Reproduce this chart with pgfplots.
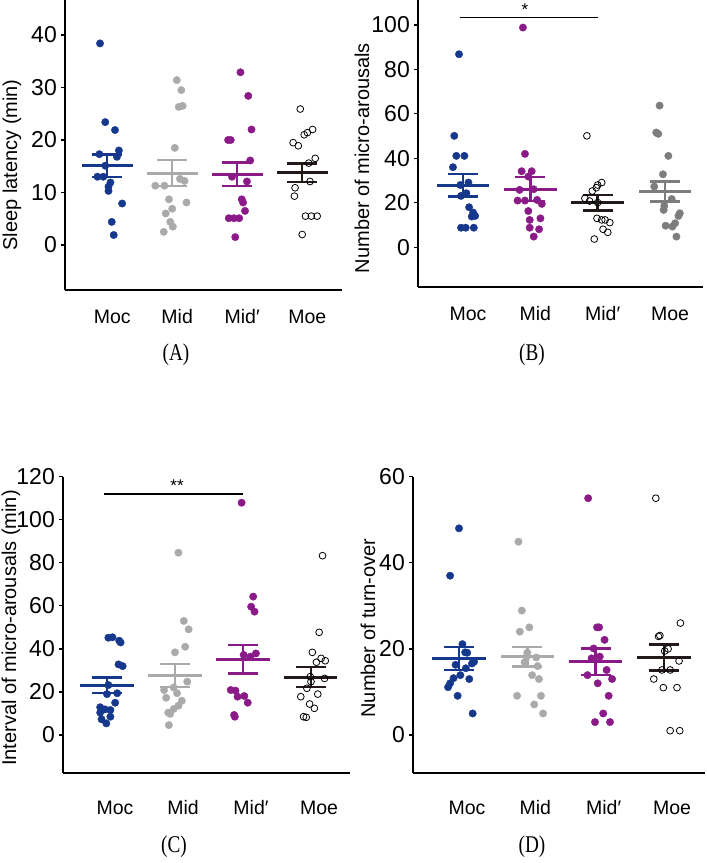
\documentclass[border=0pt]{standalone}
\usepackage{fontspec}
\setmainfont{Liberation Sans}
\newfontfamily\libserif{Liberation Serif}
\usepackage{graphicx}
\usepackage{pgfplots}
\pgfplotsset{compat=1.18}
\definecolor{cblue}{RGB}{22,56,140}
\definecolor{cpurp}{RGB}{139,26,137}
\definecolor{clgray}{RGB}{170,170,170}
\definecolor{cdgray}{RGB}{125,125,125}
\definecolor{cblack}{RGB}{35,25,25}
\pgfplotsset{
  dot/.style={only marks, mark=*, mark size=3.7bp, mark options={draw=#1, fill=#1}, forget plot},
  odot/.style={only marks, mark=o, mark size=3.4bp, mark options={draw=black, line width=0.8bp, fill=white}, forget plot},
  panel/.style={scale only axis, axis lines*=left, axis line style={line width=2.3bp, black},
    xtick={1,2,3,4}, xticklabels={Moc,Mid,Mid′,Moe}, major x tick style={draw=none},
    tick align=outside, major tick length=4bp, y tick style={line width=1.3bp, black},
    /pgf/number format/assume math mode=true,
    yticklabel style={font=\fontsize{23bp}{23bp}\selectfont, inner sep=1bp, xshift=-3bp},
    xticklabel style={font=\fontsize{19.5bp}{19.5bp}\selectfont, anchor=base},
    clip=false},
}
\newcommand{\msem}[4]{%
\addplot[color=#4, forget plot, mark=none, error bars/.cd, x dir=both, x fixed=0.39, error mark=none, error bar style={line width=3bp, #4}] coordinates {(#1,#2)};
\addplot[color=#4, forget plot, mark=none, error bars/.cd, y dir=both, y fixed=#3, error mark=|, error bar style={line width=2.4bp,#4}, error mark options={mark size=15bp, line width=2.4bp, #4}] coordinates {(#1,#2)};
}
\begin{document}
\begin{tikzpicture}[x=1bp,y=1bp]
\useasboundingbox (0,0) rectangle (707,863);
% ---------------- (A)
\begin{axis}[panel, at={(65bp,573bp)}, anchor=south west, width=277bp, height=290bp,
  xmin=0.351, xmax=4.612, ymin=-8.57, ymax=46.67, ytick={0,10,20,30,40},
  xticklabel style={yshift=-30bp, xshift=5bp}]
\addplot[dot=cblue] table {
0.89 38.4
0.97 23.4
1.12 21.9
1.18 18.0
0.88 17.3
1.15 16.8
0.97 15.1
0.85 13.0
0.94 13.0
1.05 11.9
1.02 11.1
1.02 10.3
1.23 7.9
1.07 4.4
1.10 1.9
};
\addplot[dot=clgray] table {
2.07 31.4
2.14 29.5
2.10 26.3
2.16 26.5
2.04 18.5
1.74 11.3
1.88 11.3
2.12 12.6
2.19 12.2
1.95 8.7
2.22 8.1
2.00 6.9
1.90 6.0
1.97 4.4
2.01 3.5
1.87 2.5
};
\addplot[dot=cpurp] table {
3.05 32.9
3.17 28.4
3.22 22.0
2.86 20.0
2.90 20.0
3.20 16.1
2.92 13.0
3.15 12.1
3.07 8.7
3.09 8.1
3.12 6.5
2.87 5.1
2.95 5.1
3.03 5.1
2.97 1.5
};
\addplot[odot] table {
3.97 25.9
4.16 22.0
4.08 21.4
4.03 21.0
3.86 19.5
3.94 18.9
4.20 16.5
4.10 15.6
4.12 12.1
3.89 10.9
3.88 9.3
4.05 5.5
4.14 5.5
4.23 5.5
4.00 2.0
};
\msem{1}{15.1}{2.15}{cblue}
\msem{2}{13.7}{2.45}{clgray}
\msem{3}{13.5}{2.25}{cpurp}
\msem{4}{13.8}{1.75}{cblack}
\end{axis}
% ---------------- (B)
\begin{axis}[panel, at={(418bp,576bp)}, anchor=south west, width=285bp, height=287bp,
  xmin=0.331, xmax=4.565, ymin=-17.86, ymax=111.2, ytick={0,20,40,60,80,100},
  xticklabel style={yshift=-30bp, xshift=5bp}]
\addplot[dot=cblue] table {
0.94 86.8
0.87 50.1
0.90 41.1
1.02 41.1
0.85 36.0
1.08 29.1
0.96 28.0
0.97 23.1
1.05 24.3
1.09 18.0
1.18 14.1
1.15 15.6
1.13 13.8
0.97 8.8
1.04 8.8
1.16 8.8
};
\addplot[dot=cpurp] table {
1.89 98.8
1.92 42.0
1.87 34.2
2.02 34.2
1.97 31.8
1.84 25.8
2.05 26.1
1.81 21.0
1.92 21.0
2.10 21.3
2.17 19.5
1.97 16.3
2.15 13.0
1.99 12.3
1.99 8.8
2.13 8.1
2.05 4.8
};
\addplot[odot] table {
2.84 50.1
2.92 25.3
2.98 26.8
3.00 28.0
3.06 29.1
2.81 22.0
2.88 20.8
3.00 20.1
2.99 13.0
3.06 12.3
3.11 12.3
3.18 11.1
3.08 8.1
3.15 6.7
2.95 3.7
};
\addplot[dot=cdgray] table {
3.92 63.7
3.87 51.6
3.90 51.0
4.05 41.1
3.97 32.8
3.84 27.3
4.10 21.7
3.99 18.7
3.98 16.8
4.20 14.1
4.22 15.3
4.01 9.7
4.11 9.3
4.15 10.8
4.17 4.8
};
\msem{1}{27.9}{5.0}{cblue}
\msem{2}{26.2}{5.5}{cpurp}
\msem{3}{20.1}{3.5}{cblack}
\msem{4}{25.0}{4.5}{cdgray}
\addplot[black, line width=1.7bp, mark=none, forget plot] coordinates {(0.96,103.3) (3.0,103.3)};
\node[font=\fontsize{17bp}{17bp}\selectfont] at (axis cs:1.92,106.8) {*};
\end{axis}
% ---------------- (C)
\begin{axis}[panel, at={(63bp,90bp)}, anchor=south west, width=287bp, height=296.3bp,
  xmin=0.353, xmax=4.574, ymin=-17.65, ymax=120, ytick={0,20,40,60,80,100,120},
  xticklabel style={yshift=-38bp, xshift=8bp}]
\addplot[dot=cblue] table {
1.02 45.2
1.08 45.4
1.18 43.8
1.20 43.0
1.17 32.8
1.23 32.0
1.02 23.2
1.15 19.4
1.00 19.0
1.12 15.0
0.90 12.9
0.97 11.9
1.05 11.6
0.90 10.4
1.05 8.5
0.92 7.3
0.99 5.4
};
\addplot[dot=clgray] table {
2.05 84.7
2.13 53.0
2.20 49.1
2.15 41.0
2.00 38.4
2.18 24.8
1.84 20.9
1.98 22.1
2.03 19.4
1.87 17.3
2.10 15.9
2.05 13.6
1.98 12.1
1.90 10.4
1.93 9.8
1.91 4.6
};
\addplot[dot=cpurp] table {
2.98 107.9
3.15 64.3
3.12 59.6
3.17 57.3
3.01 37.2
3.19 37.9
3.11 36.4
2.82 20.9
2.89 20.6
2.92 17.8
3.02 18.1
3.07 15.0
2.87 9.3
2.88 8.5
};
\addplot[odot] table {
4.17 83.3
4.12 47.7
4.02 38.4
4.15 35.6
4.21 34.5
4.08 33.8
3.99 27.1
4.20 26.3
3.94 21.7
4.00 24.8
3.85 17.8
4.10 19.0
3.98 14.4
4.05 12.4
3.89 8.5
3.93 8.2
};
\msem{1}{23.2}{3.6}{cblue}
\msem{2}{27.6}{5.4}{clgray}
\msem{3}{35.2}{6.6}{cpurp}
\msem{4}{26.9}{4.7}{cblack}
\addplot[black, line width=2bp, mark=none, forget plot] coordinates {(0.96,112.1) (3.0,112.1)};
\node[font=\fontsize{17bp}{17bp}\selectfont] at (axis cs:2.03,115.8) {**};
\end{axis}
% ---------------- (D)
\begin{axis}[panel, at={(413bp,90bp)}, anchor=south west, width=292bp, height=296.3bp,
  xmin=0.327, xmax=4.60, ymin=-8.83, ymax=60, ytick={0,20,40,60},
  xticklabel style={yshift=-38bp, xshift=8bp}]
\addplot[dot=cblue] table {
1.00 48.0
0.87 37.0
1.05 21.1
1.09 19.2
1.12 19.1
0.95 16.3
1.22 17.0
1.19 16.6
1.10 15.5
1.02 13.9
1.15 13.0
0.92 13.2
0.87 12.0
0.84 11.1
0.98 9.1
1.20 5.0
};
\addplot[dot=clgray] table {
1.87 44.9
1.92 28.9
1.89 24.0
2.03 25.0
2.00 19.1
1.99 18.2
2.13 18.0
1.96 16.9
2.15 16.0
2.07 13.9
2.17 13.0
1.85 9.1
2.20 9.1
2.10 7.1
2.23 5.0
};
\addplot[dot=cpurp] table {
2.89 55.0
3.02 25.0
3.05 25.0
3.13 22.1
2.97 20.1
2.94 17.8
3.06 18.2
2.88 13.9
3.16 15.1
3.24 13.0
3.03 12.0
3.19 9.1
3.11 5.0
2.99 3.0
3.21 3.0
};
\addplot[odot] table {
3.88 55.0
4.24 26.0
3.92 22.9
3.94 23.1
4.06 20.0
4.01 19.5
4.22 17.2
3.97 15.1
4.09 15.1
3.85 13.0
3.99 11.0
4.19 11.0
4.09 1.0
4.23 1.0
};
\msem{1}{17.8}{2.65}{cblue}
\msem{2}{18.2}{2.3}{clgray}
\msem{3}{17.0}{3.05}{cpurp}
\msem{4}{18.0}{3.0}{cblack}
\end{axis}
% ---------------- labels
\node[rotate=90, font=\fontsize{20bp}{20bp}\selectfont] at (12,698) {Sleep latency (min)};
\node[rotate=90, font=\fontsize{20bp}{20bp}\selectfont] at (362,705) {Number of micro-arousals};
\node[rotate=90, font=\fontsize{20bp}{20bp}\selectfont] at (11,235) {Interval of micro-arousals (min)};
\node[rotate=90, font=\fontsize{20bp}{20bp}\selectfont] at (368,235) {Number of turn-over};
\node[font=\fontsize{24bp}{24bp}\libserif] at (176,508) {\scalebox{0.8}[1]{(A)}};
\node[font=\fontsize{24bp}{24bp}\libserif] at (532,508) {\scalebox{0.8}[1]{(B)}};
\node[font=\fontsize{24bp}{24bp}\libserif] at (174,16) {\scalebox{0.8}[1]{(C)}};
\node[font=\fontsize{24bp}{24bp}\libserif] at (532,16) {\scalebox{0.8}[1]{(D)}};
\end{tikzpicture}
\end{document}
